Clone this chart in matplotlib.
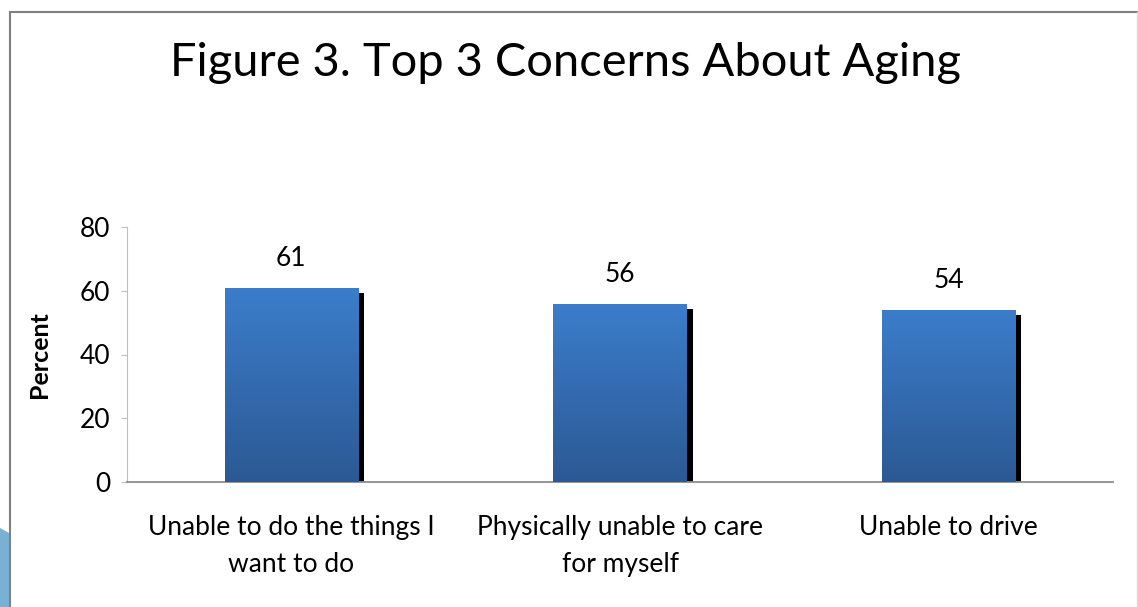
import matplotlib
matplotlib.use("Agg")
import matplotlib.pyplot as plt
import matplotlib.patheffects as pe
from matplotlib.patches import Polygon
import numpy as np

plt.rcParams['font.family'] = ['Lato', 'DejaVu Sans']

categories = ["Unable to do the things I\nwant to do",
              "Physically unable to care\nfor myself",
              "Unable to drive"]
values = [61, 56, 54]
yticks = [0, 20, 40, 60, 80]

fig = plt.figure(figsize=(11.38, 6.07), dpi=100)
fig.patch.set_facecolor("white")

# frame lines and the blue shape in the corner
fig.add_artist(plt.Line2D([10/1138, 10/1138], [0, 1 - 12/607], color="#808080", lw=1.5))
fig.add_artist(plt.Line2D([10/1138, 1], [1 - 12/607, 1 - 12/607], color="#808080", lw=1.5))
fig.add_artist(plt.Line2D([1137/1138, 1137/1138], [0, 1 - 12/607], color="#d9d9d9", lw=1))
fig.add_artist(Polygon([[0, 1 - 528/607], [9/1138, 1 - 533/607], [9/1138, 0], [0, 0]],
                       closed=True, transform=fig.transFigure, color="#7ab0d4", lw=0))

ax = fig.add_axes([127/1138, 125/607, 986/1138, 255/607])
x = np.arange(len(categories))
bars = ax.bar(x, values, width=0.405, color="#3a78c3", zorder=2,
              path_effects=[pe.SimplePatchShadow(offset=(4.3, -3.6), shadow_rgbFace="black", alpha=1.0),
                            pe.Normal()])

# vertical gradient on each bar
grad = np.linspace(0, 1, 256).reshape(-1, 1)
cmap = matplotlib.colors.LinearSegmentedColormap.from_list("g", ["#2c5994", "#3b7dcb"])
for b in bars:
    im = ax.imshow(grad, cmap=cmap, aspect="auto", origin="lower", zorder=3,
                   extent=[b.get_x(), b.get_x() + b.get_width(), 0, b.get_height()])
    im.set_clip_path(b)

for xi, v in zip(x, values):
    ax.annotate(str(v), (xi, v), xytext=(0, 12), textcoords="offset points",
                ha="center", va="bottom", fontsize=19)

ax.set_xlim(-0.5, len(categories) - 0.5)
ax.set_ylim(0, 80)
ax.set_yticks(yticks)
ax.set_xticks(x)
ax.set_xticklabels(categories, fontsize=19, linespacing=1.6)
ax.tick_params(axis="y", labelsize=19, length=4, color="#bfbfbf", pad=8)
ax.tick_params(axis="x", length=0, pad=24)
for s in ["top", "right"]:
    ax.spines[s].set_visible(False)
ax.spines["left"].set_color("#bfbfbf")
ax.spines["bottom"].set_color("#8c8c8c")
ax.spines["bottom"].set_linewidth(1.3)
ax.set_ylabel("Percent", fontsize=18, fontweight="bold", labelpad=21)

fig.text(565/1138, 1 - 63/607, "Figure 3. Top 3 Concerns About Aging", ha="center", va="center", fontsize=33.8)

fig.savefig("out.png", dpi=100, facecolor="white")
